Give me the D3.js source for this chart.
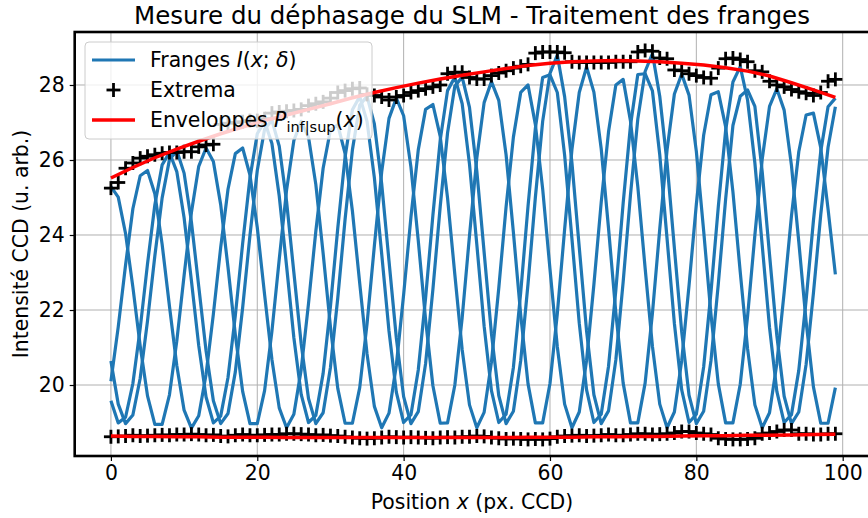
<!DOCTYPE html>
<html><head><meta charset="utf-8">
<script src="https://cdn.jsdelivr.net/npm/d3@7"></script>
<style>body{margin:0;background:#fff} svg{display:block} text{font-family:"DejaVu Sans",sans-serif;fill:#000}</style>
</head><body><svg id="c" width="868" height="518"></svg>
<script>
const xTicks = [0,20,40,60,80,100];
const yTicks = [20,22,24,26,28];
const fringe1 = [20.10,21.55,23.20,24.70,25.58,25.72,25.10,23.75,22.10,20.52,
19.33,18.85,19.18,20.28,21.89,23.67,25.22,26.17,26.32,25.60,
24.20,22.41,20.68,19.39,18.86,19.22,20.41,22.17,24.10,25.78,
26.80,26.94,26.17,24.64,22.71,20.83,19.43,18.86,19.25,20.52,
22.41,24.48,26.27,27.35,27.48,26.63,24.99,22.94,20.94,19.47,
18.86,19.27,20.61,22.58,24.75,26.61,27.80,28.00,26.95,25.23,
23.09,21.02,19.49,18.86,19.28,20.66,22.68,24.87,26.75,28.00,
28.15,27.04,25.29,23.12,21.03,19.49,18.86,19.28,20.65,22.65,
24.82,26.66,27.74,27.82,26.89,25.15,23.01,20.97,19.47,18.86,
19.26,20.57,22.47,24.51,26.22,27.20,27.25,26.33,24.69,22.95];
const fringe2 = [19.58,18.99,19.14,20.04,21.51,23.23,24.80,25.87,26.20,25.69,
24.46,22.78,21.05,19.68,18.99,19.17,20.20,21.85,23.77,25.52,
26.70,27.03,26.44,25.04,23.18,21.26,19.75,19.00,19.19,20.31,
22.10,24.18,26.08,27.34,27.69,27.03,25.53,23.50,21.44,19.81,
19.00,19.21,20.40,22.32,24.53,26.53,27.85,28.21,27.50,25.89,
23.75,21.57,19.85,19.00,19.22,20.47,22.47,24.77,26.84,28.20,
28.27,27.80,26.13,23.90,21.65,19.87,19.00,19.22,20.50,22.53,
24.85,26.92,28.28,28.30,27.84,26.14,23.90,21.64,19.87,19.00,
19.22,20.48,22.48,24.75,26.78,28.08,28.49,27.60,25.92,23.73,
21.54,19.83,19.00,19.21,20.39,22.26,24.38,26.23,27.42,27.65];
const fringe3 = [20.64,19.49,18.97,19.20,20.18,21.71,23.44,24.99,26.01,26.25,
25.65,24.35,22.63,20.91,19.58,18.97,19.24,20.35,22.06,23.99,
25.72,26.82,27.06,26.37,24.90,23.00,21.10,19.64,18.97,19.26,
20.47,22.32,24.42,26.27,27.46,27.70,26.96,25.37,23.31,21.26,
19.69,18.97,19.29,20.57,22.55,24.76,26.72,27.97,28.21,27.40,
25.71,23.54,21.37,19.72,18.97,19.30,20.65,22.70,25.00,27.03,
28.31,28.80,27.69,25.93,23.67,21.44,19.74,18.97,19.31,20.67,
22.75,25.07,27.09,28.36,28.84,27.70,25.92,23.65,21.42,19.73,
18.97,19.30,20.65,22.69,24.95,26.92,27.70,27.87,27.43,25.69,
23.48,21.32,19.70,18.97,19.28,20.55,22.45,24.54,26.34,27.42];
const fringe4 = [25.29,25.01,24.04,22.61,21.04,19.71,18.95,18.95,19.74,21.17,
22.92,24.60,25.83,26.32,25.96,24.81,23.14,21.34,19.83,18.97,
18.97,19.85,21.43,23.35,25.19,26.52,27.03,26.61,25.35,23.51,
21.55,19.91,18.98,18.98,19.93,21.63,23.71,25.68,27.11,27.65,
27.18,25.81,23.85,21.74,19.98,18.98,18.99,20.00,21.79,23.98,
26.05,27.53,28.09,27.59,26.14,24.07,21.87,20.03,18.99,18.99,
20.04,21.90,24.15,26.28,27.80,28.48,27.81,26.30,24.18,21.92,
20.05,18.99,18.99,20.05,21.91,24.16,26.27,27.76,28.29,27.73,
26.23,24.11,21.88,20.03,18.99,18.99,20.02,21.83,24.00,26.02,
27.43,27.90,27.33,25.85,23.82,21.69,19.95,18.98,18.98,19.93];
const extremaSup = [25.25,25.40,25.78,25.92,26.05,26.10,26.14,26.18,26.20,26.20,
26.22,26.22,26.35,26.40,26.42,26.95,26.98,27.00,27.02,27.05,
27.05,27.10,27.25,27.28,27.30,27.32,27.35,27.45,27.50,27.55,
27.65,27.80,27.85,27.90,27.92,27.75,27.72,27.68,27.60,27.68,
27.72,27.80,27.85,27.90,27.95,28.00,28.30,28.34,28.34,28.20,
28.16,28.16,28.25,28.32,28.38,28.45,28.50,28.55,28.85,28.88,
28.88,28.88,28.86,28.62,28.60,28.60,28.60,28.60,28.60,28.62,
28.62,28.62,28.88,28.92,28.90,28.72,28.70,28.40,28.38,28.30,
28.25,28.20,28.18,28.45,28.70,28.72,28.68,28.62,28.38,28.35,
28.10,28.00,27.95,27.88,27.82,27.78,27.72,27.80,28.10,28.15];
const extremaInf = [18.62,18.63,18.64,18.66,18.64,18.65,18.66,18.67,18.66,18.68,
18.68,18.69,18.68,18.66,18.67,18.64,18.63,18.66,18.68,18.66,
18.66,18.67,18.68,18.68,18.70,18.70,18.69,18.68,18.66,18.67,
18.65,18.64,18.62,18.60,18.58,18.57,18.58,18.60,18.62,18.61,
18.60,18.61,18.60,18.59,18.58,18.60,18.61,18.60,18.62,18.62,
18.64,18.63,18.60,18.58,18.56,18.57,18.56,18.55,18.56,18.55,
18.57,18.62,18.64,18.65,18.66,18.64,18.65,18.66,18.68,18.66,
18.66,18.68,18.70,18.70,18.68,18.69,18.70,18.72,18.76,18.76,
18.72,18.70,18.68,18.58,18.56,18.55,18.55,18.56,18.58,18.70,
18.72,18.76,18.80,18.80,18.70,18.70,18.68,18.68,18.70,18.70];
const envX = [0,3,6,9,12,15,18,21,24,27,30,33,36,39,42,45,48,51,54,57,60,63,66,69,72,75,78,81,84,87,90,93,96,99];
const envSup = [25.52,25.80,26.06,26.29,26.50,26.70,26.88,27.05,27.20,27.35,27.50,27.66,27.80,27.93,28.05,28.16,28.26,28.35,28.44,28.52,28.58,28.62,28.64,28.65,28.64,28.62,28.58,28.53,28.46,28.37,28.24,28.06,27.87,27.67];
const envInf = [18.64,18.63,18.63,18.62,18.62,18.61,18.61,18.61,18.60,18.60,18.60,18.60,18.60,18.60,18.60,18.60,18.60,18.60,18.60,18.61,18.61,18.61,18.62,18.62,18.63,18.63,18.64,18.65,18.65,18.66,18.66,18.67,18.68,18.69];

const svg = d3.select("#c");
const L = 74.7, R = 871.6, T = 32, B = 456;
const FS = 20.4;
const x = d3.scaleLinear().domain([-4.95, 103.95]).range([L, R]);
const y = d3.scaleLinear().domain([18.107, 29.413]).range([B, T]);

const g = svg.append("g");
g.selectAll(".gx").data(xTicks).enter().append("line")
  .attr("x1", d => x(d)).attr("x2", d => x(d)).attr("y1", T).attr("y2", B)
  .attr("stroke", "#b0b0b0").attr("stroke-width", 1);
g.selectAll(".gy").data(yTicks).enter().append("line")
  .attr("x1", L).attr("x2", R).attr("y1", d => y(d)).attr("y2", d => y(d))
  .attr("stroke", "#b0b0b0").attr("stroke-width", 1);

const line = d3.line().x((d, i) => x(i)).y(d => y(d));
[fringe1, fringe2, fringe3, fringe4].forEach(s => {
  svg.append("path").datum(s).attr("d", line).attr("fill", "none")
    .attr("stroke", "#1f77b4").attr("stroke-width", 3.2).attr("stroke-linejoin", "round");
});

const ms = 7;
function plus(data) {
  const gg = svg.append("g").attr("stroke", "#000").attr("stroke-width", 2.8);
  data.forEach((v, i) => {
    gg.append("line").attr("x1", x(i) - ms).attr("x2", x(i) + ms).attr("y1", y(v)).attr("y2", y(v));
    gg.append("line").attr("x1", x(i)).attr("x2", x(i)).attr("y1", y(v) - ms).attr("y2", y(v) + ms);
  });
}
plus(extremaSup);
plus(extremaInf);

const eline = d3.line().x((d, i) => x(envX[i])).y(d => y(d));
[envSup, envInf].forEach(s => {
  svg.append("path").datum(s).attr("d", eline).attr("fill", "none")
    .attr("stroke", "#ff0000").attr("stroke-width", 3.5);
});

const xa = svg.append("g").attr("transform", `translate(0,${B})`)
  .call(d3.axisBottom(x).tickValues(xTicks).tickSize(5).tickPadding(5).tickFormat(d3.format("d")));
const ya = svg.append("g").attr("transform", `translate(${L},0)`)
  .call(d3.axisLeft(y).tickValues(yTicks).tickSize(5).tickPadding(5).tickFormat(d3.format("d")));
[xa, ya].forEach(a => {
  a.select(".domain").remove();
  a.selectAll("line").attr("stroke", "#000").attr("stroke-width", 1.2);
  a.selectAll("text").attr("font-size", FS).attr("font-family", "DejaVu Sans").attr("fill", "#000");
});

svg.append("rect").attr("x", L).attr("y", T).attr("width", R - L).attr("height", B - T)
  .attr("fill", "none").attr("stroke", "#000").attr("stroke-width", 2.6);

svg.append("text").attr("x", 472).attr("y", 24).attr("text-anchor", "middle")
  .attr("font-size", 24.5).text("Mesure du déphasage du SLM - Traitement des franges");
const xl = svg.append("text").attr("x", 472).attr("y", 509).attr("text-anchor", "middle").attr("font-size", FS);
xl.append("tspan").text("Position ");
xl.append("tspan").attr("font-style", "italic").text("x");
xl.append("tspan").text(" (px. CCD)");
svg.append("text").attr("transform", "translate(28,244) rotate(-90)").attr("text-anchor", "middle")
  .attr("font-size", FS).text("Intensité CCD (u. arb.)");

const lg = svg.append("g");
lg.append("rect").attr("x", 85).attr("y", 42).attr("width", 287).attr("height", 97).attr("rx", 4)
  .attr("fill", "#fff").attr("fill-opacity", 0.8).attr("stroke", "#cccccc").attr("stroke-width", 1);
lg.append("line").attr("x1", 92).attr("x2", 135).attr("y1", 60).attr("y2", 60).attr("stroke", "#1f77b4").attr("stroke-width", 3.2);
lg.append("line").attr("x1", 113.5 - ms).attr("x2", 113.5 + ms).attr("y1", 90).attr("y2", 90).attr("stroke", "#000").attr("stroke-width", 2.8);
lg.append("line").attr("x1", 113.5).attr("x2", 113.5).attr("y1", 90 - ms).attr("y2", 90 + ms).attr("stroke", "#000").attr("stroke-width", 2.8);
lg.append("line").attr("x1", 92).attr("x2", 135).attr("y1", 120).attr("y2", 120).attr("stroke", "#ff0000").attr("stroke-width", 3.5);
const t1 = lg.append("text").attr("x", 150).attr("y", 67).attr("font-size", FS);
t1.append("tspan").text("Franges ");
t1.append("tspan").attr("font-style", "italic").text("I");
t1.append("tspan").text("(");
t1.append("tspan").attr("font-style", "italic").text("x");
t1.append("tspan").text("; ");
t1.append("tspan").attr("font-style", "italic").text("δ");
t1.append("tspan").text(")");
lg.append("text").attr("x", 150).attr("y", 97).attr("font-size", FS).text("Extrema");
const t3 = lg.append("text").attr("x", 150).attr("y", 127).attr("font-size", FS);
t3.append("tspan").text("Enveloppes ");
t3.append("tspan").attr("font-style", "italic").text("P");
t3.append("tspan").attr("font-size", 14.5).attr("dy", 4.5).text("inf|sup");
t3.append("tspan").attr("dy", -4.5).text("(");
t3.append("tspan").attr("font-style", "italic").text("x");
t3.append("tspan").text(")");
</script></body></html>
